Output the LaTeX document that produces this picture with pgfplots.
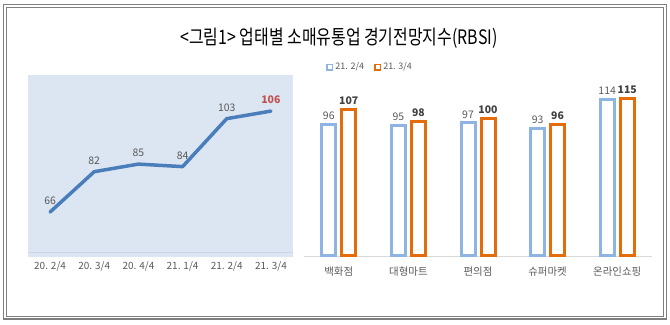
\documentclass[border=0pt]{standalone}
\usepackage{fontspec}
\setmainfont{Noto Sans CJK KR}
\usepackage{graphicx}
\usepackage{pgfplots}
\pgfplotsset{compat=1.18}
\definecolor{framegray}{HTML}{7F7F7F}
\definecolor{bgblue}{HTML}{DCE6F2}
\definecolor{baseblue}{HTML}{CAD8EA}
\definecolor{lineblue}{HTML}{4A7EBB}
\definecolor{textgray}{HTML}{595959}
\definecolor{darkgray}{HTML}{404040}
\definecolor{labelred}{HTML}{C0504D}
\definecolor{barblue}{HTML}{8DB4E2}
\definecolor{barorange}{HTML}{E46C0A}
\definecolor{gridgray}{HTML}{D9D9D9}
\newcommand\fs[1]{\fontsize{#1}{#1}\selectfont}
\pgfplotsset{/pgf/number format/assume math mode=true}
\begin{document}
\begin{tikzpicture}
\path[use as bounding box] (0bp,0bp) rectangle (670bp,325bp);
\draw[framegray, line width=1.6bp] (3.5bp,6bp) rectangle (666.5bp,320.5bp);
\draw[framegray, line width=0.8bp] (6.5bp,8.5bp) rectangle (663bp,317.5bp);
\node at (339bp,287bp) {\scalebox{0.8}[1]{\fs{20}<그림1> 업태별 소매유통업 경기전망지수(RBSI)}};

% left line chart
\begin{axis}[at={(28bp,68bp)}, anchor=south west, scale only axis,
  width=265bp, height=182bp,
  xmin=-0.5, xmax=5.5, ymin=48.2, ymax=120.3,
  axis background/.style={fill=bgblue},
  axis line style={draw=none},
  major tick length=0, ytick=\empty, xtick={0,...,5},
  xticklabels={20. 2/4, 20. 3/4, 20. 4/4, 21. 1/4, 21. 2/4, 21. 3/4},
  xticklabel style={font=\fs{10}, text=textgray, yshift=-1bp},
  extra y ticks={50}, extra y tick labels={},
  extra y tick style={grid=major, major grid style={draw=baseblue, line width=0.8bp}},
  clip=false,
  nodes near coords={\pgfplotspointmeta},
  point meta=explicit symbolic,
  every node near coord/.append style={font=\fs{10.5}, text=textgray, yshift=2bp}]
\addplot[color=lineblue, line width=3.5bp, line join=round, line cap=round, mark=none]
  coordinates {(0,66)[66] (1,82)[82] (2,85)[85] (3,84)[84] (4,103)[103] (5,106)[\textcolor{labelred}{\textbf{106}}]};
\end{axis}

% right bar chart
\begin{axis}[at={(304bp,69bp)}, anchor=south west, scale only axis,
  width=348bp, height=181bp,
  xmin=-0.5, xmax=4.5, ymin=0, ymax=132,
  ybar=6bp, bar width=14bp,
  axis line style={draw=none},
  major tick length=0, ytick=\empty, xtick={0,...,4},
  xticklabels={백화점,대형마트,편의점,슈퍼마켓,온라인쇼핑},
  xticklabel style={font=\fs{10.5}, text=textgray, yshift=-7bp},
  extra y ticks={0}, extra y tick labels={},
  extra y tick style={grid=major, major grid style={draw=gridgray, line width=0.8bp}},
  clip=false,
  legend style={at={(0.063,1.044)}, anchor=west, draw=none, fill=none,
    legend columns=2, font=\fs{9}, text=textgray, inner sep=0pt,
    /tikz/every even column/.append style={column sep=8bp}},
  legend image code/.code={\draw[#1, line width=1.8bp, fill=white] (0bp,-2.6bp) rectangle (5.5bp,2.6bp);},
  nodes near coords]
\addplot[draw=barblue, fill=white, line width=3bp,
  every node near coord/.append style={font=\fs{10.5}, text=textgray}]
  coordinates {(0,96) (1,95) (2,97) (3,93) (4,114)};
\addplot[draw=barorange, fill=white, line width=3bp,
  every node near coord/.append style={font=\fs{10.5}\bfseries, text=darkgray}]
  coordinates {(0,107) (1,98) (2,100) (3,96) (4,115)};
\legend{21. 2/4, 21. 3/4}
\end{axis}
\end{tikzpicture}
\end{document}
